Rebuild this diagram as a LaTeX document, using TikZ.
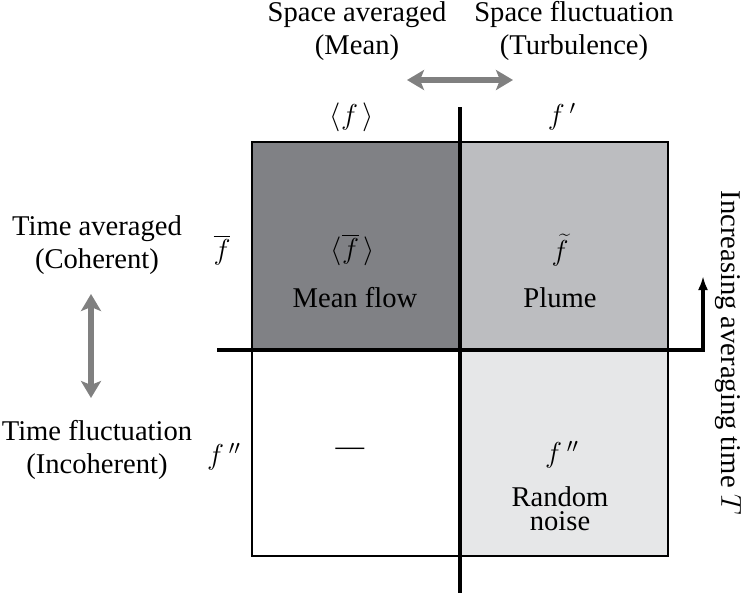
\documentclass[tikz,border=0pt]{standalone}
\usepackage{fontspec}
\setmainfont{Liberation Serif}
\usetikzlibrary{arrows.meta}
\definecolor{darkcell}{RGB}{128,129,133}
\definecolor{lightcell}{RGB}{188,189,192}
\definecolor{palecell}{RGB}{230,231,232}
\definecolor{arrowgray}{RGB}{128,128,128}
\begin{document}
\begin{tikzpicture}[x=0.5pt,y=-0.5pt,
  lbl/.style={font=\fontsize{14.3}{16.5}\selectfont, align=center, inner sep=0pt},
  tight/.style={font=\fontsize{14.3}{12}\selectfont, align=center, inner sep=0pt},
  axis/.style={line width=2.3pt},
  grayarrow/.style={draw=arrowgray, line width=2.8pt, {Stealth[width=10pt,length=8.5pt,inset=2pt]}-{Stealth[width=10pt,length=8.5pt,inset=2pt]}},
]
\useasboundingbox (0,0) rectangle (747,596);
% cells
\fill[darkcell] (252,142) rectangle (460,350);
\fill[lightcell] (460,142) rectangle (668,350);
\fill[palecell] (460,350) rectangle (668,556);
\draw[line width=1pt] (252,142) rectangle (668,556);
% axes
\coordinate (vt) at (460,107);
\coordinate (vb) at (460,593);
\draw[axis] (vt) -- (vb);
\coordinate (hl) at (217,350);
\coordinate (hc) at (703,350);
\coordinate (ht) at (703,276);
\draw[axis, line join=miter, -{Latex[length=7pt,width=5pt]}] (hl) -- (hc) -- (ht);
% top labels
\node[lbl] (sa) at (357,31) {Space averaged\\(Mean)};
\node[lbl] (sf) at (574,31) {Space fluctuation\\(Turbulence)};
\coordinate (hal) at (407,80);
\coordinate (har) at (513,80);
\draw[grayarrow] (hal) -- (har);
\node[lbl] (fm) at (352,117) {$\langle f\,\rangle$};
\node[lbl] (fp) at (562,117) {$f\,'$};
% left labels
\node[lbl] (ta) at (97,245) {Time averaged\\(Coherent)};
\node[lbl] (tf) at (97,450) {Time fluctuation\\(Incoherent)};
\coordinate (vat) at (91,294);
\coordinate (vab) at (91,398);
\draw[grayarrow] (vat) -- (vab);
\node[lbl] (fb) at (222,250) {$\overline{f}$};
\node[lbl] (fpp) at (224,457) {$f\,''$};
% cells text
\node[lbl] (c1a) at (353,250) {$\langle\overline{f}\,\rangle$};
\node[lbl] (c1b) at (355,298) {Mean flow};
\node[lbl] (c2a) at (560,250) {$\widetilde{f}$};
\node[lbl] (c2b) at (560,298) {Plume};
\node[lbl] (c3) at (350,452) {---};
\node[lbl] (c4a) at (562,455) {$f\,''$};
\node[tight] (c4b) at (560,509) {Random\\noise};
% right label
\node[lbl, rotate=-90] (inc) at (728,353) {Increasing averaging time $T$};
\end{tikzpicture}
\end{document}
